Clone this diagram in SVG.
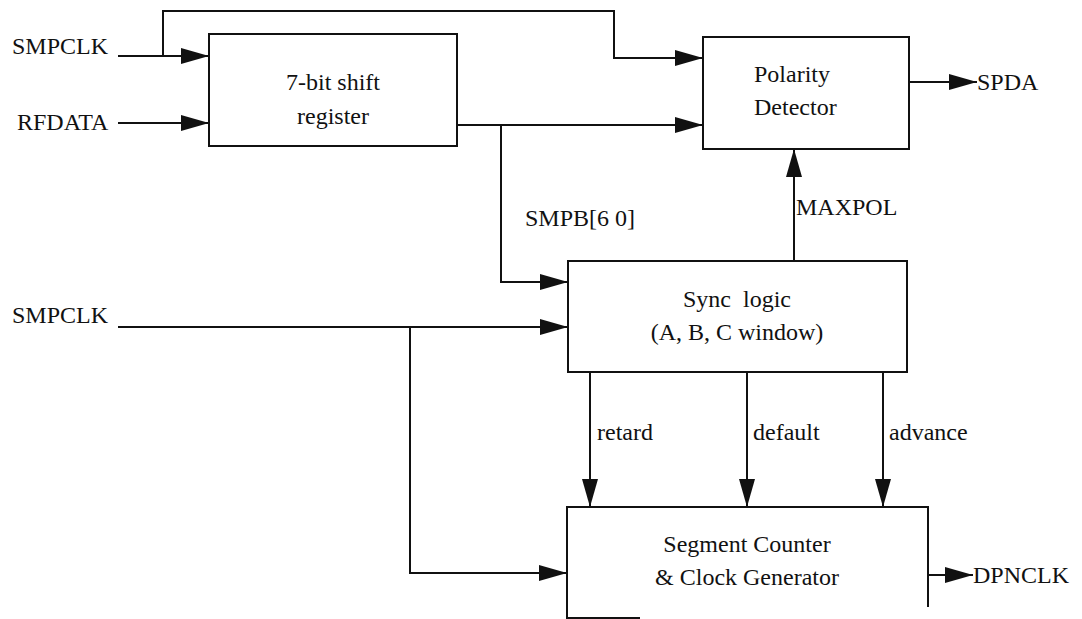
<svg xmlns="http://www.w3.org/2000/svg" width="1082" height="619" viewBox="0 0 1082 619">
  <defs>
    <marker id="arrow" markerUnits="userSpaceOnUse" viewBox="0 0 28 16" markerWidth="28" markerHeight="16" refX="28" refY="8" orient="auto">
      <path d="M0,0 L28,8 L0,16 Z" fill="#111"/>
    </marker>
  </defs>
  <rect width="1082" height="619" fill="#fff"/>

  <!-- connectors: 2px black wires ending in filled arrowheads -->
  <g id="connectors" fill="none" stroke="#111" stroke-width="2">
    <path d="M118,56 H209" marker-end="url(#arrow)"/>
    <path d="M163,56 V11 H614 V58 H703" marker-end="url(#arrow)"/>
    <path d="M118,123 H209" marker-end="url(#arrow)"/>
    <path d="M457,125 H703" marker-end="url(#arrow)"/>
    <path d="M501,125 V282 H568" marker-end="url(#arrow)"/>
    <path d="M909,82 H977" marker-end="url(#arrow)"/>
    <path d="M794,261 V149" marker-end="url(#arrow)"/>
    <path d="M118,327 H568" marker-end="url(#arrow)"/>
    <path d="M410,327 V573 H567" marker-end="url(#arrow)"/>
    <path d="M590,372 V507" marker-end="url(#arrow)"/>
    <path d="M747,372 V507" marker-end="url(#arrow)"/>
    <path d="M883,372 V507" marker-end="url(#arrow)"/>
    <path d="M928,575 H973" marker-end="url(#arrow)"/>
  </g>
  <g id="connector-labels" fill="#111" font-size="24" font-family="Liberation Serif">
    <text x="525" y="226">SMPB[6 0]</text>
    <text x="796" y="215">MAXPOL</text>
    <text x="597" y="440">retard</text>
    <text x="753" y="440">default</text>
    <text x="889" y="440">advance</text>
  </g>

  <!-- external signals -->
  <g id="inputs" fill="#111" font-size="24" font-family="Liberation Serif">
    <text x="12" y="54">SMPCLK</text>
    <text x="17" y="130">RFDATA</text>
    <text x="12" y="323">SMPCLK</text>
  </g>
  <g id="outputs" fill="#111" font-size="24" font-family="Liberation Serif">
    <text x="977" y="90">SPDA</text>
    <text x="973" y="583">DPNCLK</text>
  </g>

  <!-- blocks -->
  <g id="shift-register" font-size="24" font-family="Liberation Serif">
    <rect x="209" y="34" width="248" height="112" fill="#fff" stroke="#111" stroke-width="2"/>
    <text x="333" y="90" text-anchor="middle" fill="#111">7-bit shift</text>
    <text x="333" y="124" text-anchor="middle" fill="#111">register</text>
  </g>
  <g id="polarity-detector" font-size="24" font-family="Liberation Serif">
    <rect x="703" y="37" width="206" height="112" fill="#fff" stroke="#111" stroke-width="2"/>
    <text x="754" y="82" fill="#111">Polarity</text>
    <text x="754" y="115" fill="#111">Detector</text>
  </g>
  <g id="sync-logic" font-size="24" font-family="Liberation Serif">
    <rect x="568" y="261" width="339" height="111" fill="#fff" stroke="#111" stroke-width="2"/>
    <text x="737" y="307" text-anchor="middle" fill="#111" xml:space="preserve">Sync  logic</text>
    <text x="737" y="340" text-anchor="middle" fill="#111">(A, B, C window)</text>
  </g>
  <g id="segment-counter" font-size="24" font-family="Liberation Serif">
    <path d="M928,607 V507 H567 V618 H640" fill="none" stroke="#111" stroke-width="2"/>
    <text x="747" y="552" text-anchor="middle" fill="#111">Segment Counter</text>
    <text x="747" y="585" text-anchor="middle" fill="#111">&amp; Clock Generator</text>
  </g>
</svg>
